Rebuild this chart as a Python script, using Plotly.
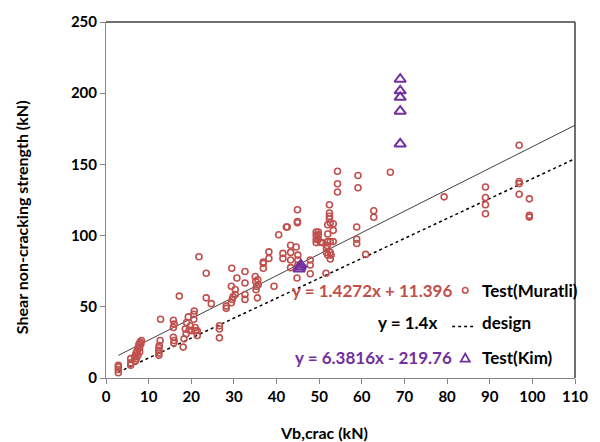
import plotly.graph_objects as go

# ---------------------------------------------------------
# données
# ---------------------------------------------------------
muratli_x = [
    2.9, 2.9, 2.9, 2.9, 5.8, 5.8, 5.8,
    6.7, 7.0, 7.3, 7.5, 7.7, 8.0, 8.3, 7.9, 7.1, 7.5, 7.9, 8.2, 6.9,
    12.4, 12.4, 12.4, 12.5, 12.7, 12.8, 12.4,
    15.8, 16.0, 15.8, 15.8, 16.0, 15.9,
    17.2, 18.1, 18.3, 18.6, 18.9, 19.3, 19.5, 20.1, 20.6, 20.6, 20.9, 21.4, 21.4,
    20.7, 21.0, 19.8, 18.8,
    21.8, 23.5, 23.5, 24.7, 26.6, 26.6, 26.6,
    28.2, 28.2, 29.4, 29.5, 29.4, 29.6, 30.3, 30.3, 30.7, 29.8,
    32.6, 32.6, 32.6, 32.6,
    35.0, 35.1, 35.3, 35.7, 35.5, 35.2, 35.6,
    36.9, 36.9, 36.9, 38.2, 38.2, 39.4, 40.5, 41.5, 41.5,
    43.3, 43.3, 43.3, 43.3, 44.6, 44.8, 45.0, 45.0, 45.0,
    47.9, 47.9, 47.9, 51.6,
    42.3, 44.9, 44.9, 44.9, 42.5,
    49.3, 49.8, 49.3, 49.8, 49.3, 49.8, 49.3, 50.3, 50.8,
    52.0, 52.0, 51.9, 51.7, 51.7, 52.6, 53.3, 52.6, 52.0, 52.6, 52.8,
    52.4, 52.4, 52.4, 52.4, 52.6, 52.0, 53.3, 53.3,
    54.3, 54.3, 54.3, 59.1, 59.1,
    58.8, 58.8, 58.8, 62.8, 62.8, 60.9, 66.7,
    79.3, 89.0, 89.0, 89.0, 89.0,
    96.9, 96.9, 96.9, 96.9, 99.3, 99.3, 99.3,
]
muratli_y = [
    3.7, 6.0, 7.8, 9.0, 9.0, 10.6, 13.6,
    14.8, 17.1, 18.9, 21.2, 23.5, 25.2, 26.3, 21.2, 13.6, 15.9, 18.2, 24.0, 12.0,
    15.9, 19.4, 21.2, 22.8, 26.3, 41.3, 17.5,
    40.6, 37.8, 35.5, 28.6, 26.3, 24.5,
    57.5, 21.7, 27.5, 34.4, 39.0, 42.9, 33.7, 33.2, 44.8, 41.3, 35.5, 33.2, 29.8,
    47.1, 33.2, 36.5, 31.0,
    85.2, 73.6, 56.3, 52.2, 36.7, 34.4, 28.2,
    50.5, 48.9, 64.4, 77.1, 52.8, 55.2, 58.6, 62.1, 70.2, 57.0,
    74.8, 66.7, 58.6, 55.2,
    71.3, 67.9, 64.4, 65.5, 56.3, 62.0, 69.0,
    80.5, 77.1, 81.5, 88.6, 84.0, 64.4, 100.6, 87.5, 84.0,
    93.2, 88.2, 82.9, 77.5, 92.0, 70.2, 86.3, 82.9, 79.4,
    82.9, 79.4, 73.2, 73.6,
    106.0, 118.2, 109.9, 109.0, 106.0,
    102.5, 102.5, 100.0, 100.5, 97.4, 97.4, 95.1, 95.3, 95.0,
    101.1, 95.8, 93.0, 90.9, 88.2, 95.8, 95.8, 88.2, 86.4, 83.6, 86.3,
    121.7, 115.9, 113.6, 111.7, 109.0, 107.6, 108.3, 103.7,
    145.2, 136.4, 130.6, 142.2, 133.6,
    106.0, 97.4, 94.4, 117.5, 112.9, 86.8, 144.5,
    127.2, 134.1, 126.8, 121.7, 115.3,
    163.4, 138.0, 136.5, 129.0, 125.8, 114.2, 113.0,
]

kim_x = [45.3, 45.5, 45.7, 69.0, 69.0, 69.0, 69.0, 69.0]
kim_y = [76.5, 78.0, 79.5, 209.8, 201.7, 197.1, 187.4, 164.4]

# droite de tendance (telle que tracée) et droite de dimensionnement
trend_x = [2.9, 110]
trend_y = [15.9, 177.5]
design_x = [2.9, 110]
design_y = [4.1, 154.0]

RED = "#C0504D"
PURPLE = "#7030A0"
FONT = "Lato"

fig = go.Figure()

fig.add_trace(go.Scatter(
    x=trend_x, y=trend_y, mode="lines",
    line=dict(color="#404040", width=1), showlegend=False, hoverinfo="skip"
))
fig.add_trace(go.Scatter(
    x=design_x, y=design_y, mode="lines",
    line=dict(color="black", width=1.5, dash="dot"), showlegend=False, hoverinfo="skip"
))
fig.add_trace(go.Scatter(
    x=muratli_x, y=muratli_y, mode="markers", name="Test(Muratli)",
    marker=dict(symbol="circle-open", size=6, color=RED, line=dict(width=1.6, color=RED)),
    showlegend=False
))
fig.add_trace(go.Scatter(
    x=kim_x, y=kim_y, mode="markers", name="Test(Kim)",
    marker=dict(symbol="triangle-up-open", size=10, color=PURPLE, line=dict(width=2, color=PURPLE)),
    showlegend=False
))

axis_common = dict(
    showgrid=False, zeroline=False, showline=True, linecolor="#868686", linewidth=1,
    ticks="outside", ticklen=5, tickcolor="#868686",
    tickfont=dict(family=FONT, size=15, color="black", weight="bold"),
)
fig.update_xaxes(range=[0, 110], dtick=10, **axis_common)
fig.update_yaxes(range=[0, 250], dtick=50, **axis_common)

# cadre haut / droite plus foncé
fig.add_shape(type="line", xref="paper", yref="paper", x0=0, x1=1, y0=1, y1=1,
              line=dict(color="#404040", width=1.5))
fig.add_shape(type="line", xref="paper", yref="paper", x0=1, x1=1, y0=0, y1=1,
              line=dict(color="#404040", width=1.5))

# pseudo-légende
bold = dict(family=FONT, size=17, weight="bold")
notes = [
    ("y = 1.4272x + 11.396", 0.741, 0.2465, "right", RED),
    ("Test(Muratli)", 0.797, 0.2465, "left", "black"),
    ("y = 1.4x", 0.711, 0.155, "right", "black"),
    ("design", 0.797, 0.155, "left", "black"),
    ("y = 6.3816x - 219.76", 0.743, 0.058, "right", PURPLE),
    ("Test(Kim)", 0.797, 0.058, "left", "black"),
]
for txt, xp, yp, anchor, col in notes:
    fig.add_annotation(text=txt, xref="paper", yref="paper", x=xp, y=yp,
                       xanchor=anchor, yanchor="middle", showarrow=False,
                       font=dict(color=col, **bold))

# symboles de la légende
fig.add_shape(type="circle", xref="paper", yref="paper",
              xsizemode="pixel", ysizemode="pixel", xanchor=0.766, yanchor=0.2465,
              x0=-2.8, x1=2.8, y0=-2.8, y1=2.8,
              line=dict(color=RED, width=1.6))
fig.add_shape(type="path", xref="paper", yref="paper",
              xsizemode="pixel", ysizemode="pixel", xanchor=0.766, yanchor=0.056,
              path="M -4.5,-3.5 L 4.5,-3.5 L 0,4.5 Z",
              line=dict(color=PURPLE, width=1.8))
fig.add_shape(type="line", xref="paper", yref="paper", x0=0.738, x1=0.789, y0=0.145, y1=0.145,
              line=dict(color="black", width=1.5, dash="dot"))

# titres des axes
fig.add_annotation(text="Vb,crac (kN)", xref="paper", yref="paper", x=0.464, y=-0.152,
                   xanchor="center", yanchor="middle", showarrow=False,
                   font=dict(family=FONT, size=16, color="black", weight="bold"))
fig.add_annotation(text="Shear non-cracking strength (kN)", xref="paper", yref="paper",
                   x=-0.181, y=0.452, textangle=-90, xanchor="center", yanchor="middle",
                   showarrow=False,
                   font=dict(family=FONT, size=16, color="black", weight="bold"))

fig.update_layout(
    width=600, height=442,
    margin=dict(l=106, r=15, t=12, b=64),
    plot_bgcolor="white", paper_bgcolor="white",
    showlegend=False,
)

# pas de marge de page autour de la figure, pas de barre d'outils
fig.write_html("out.html", config={"displayModeBar": False},
               post_script="document.body.style.margin='0';")
